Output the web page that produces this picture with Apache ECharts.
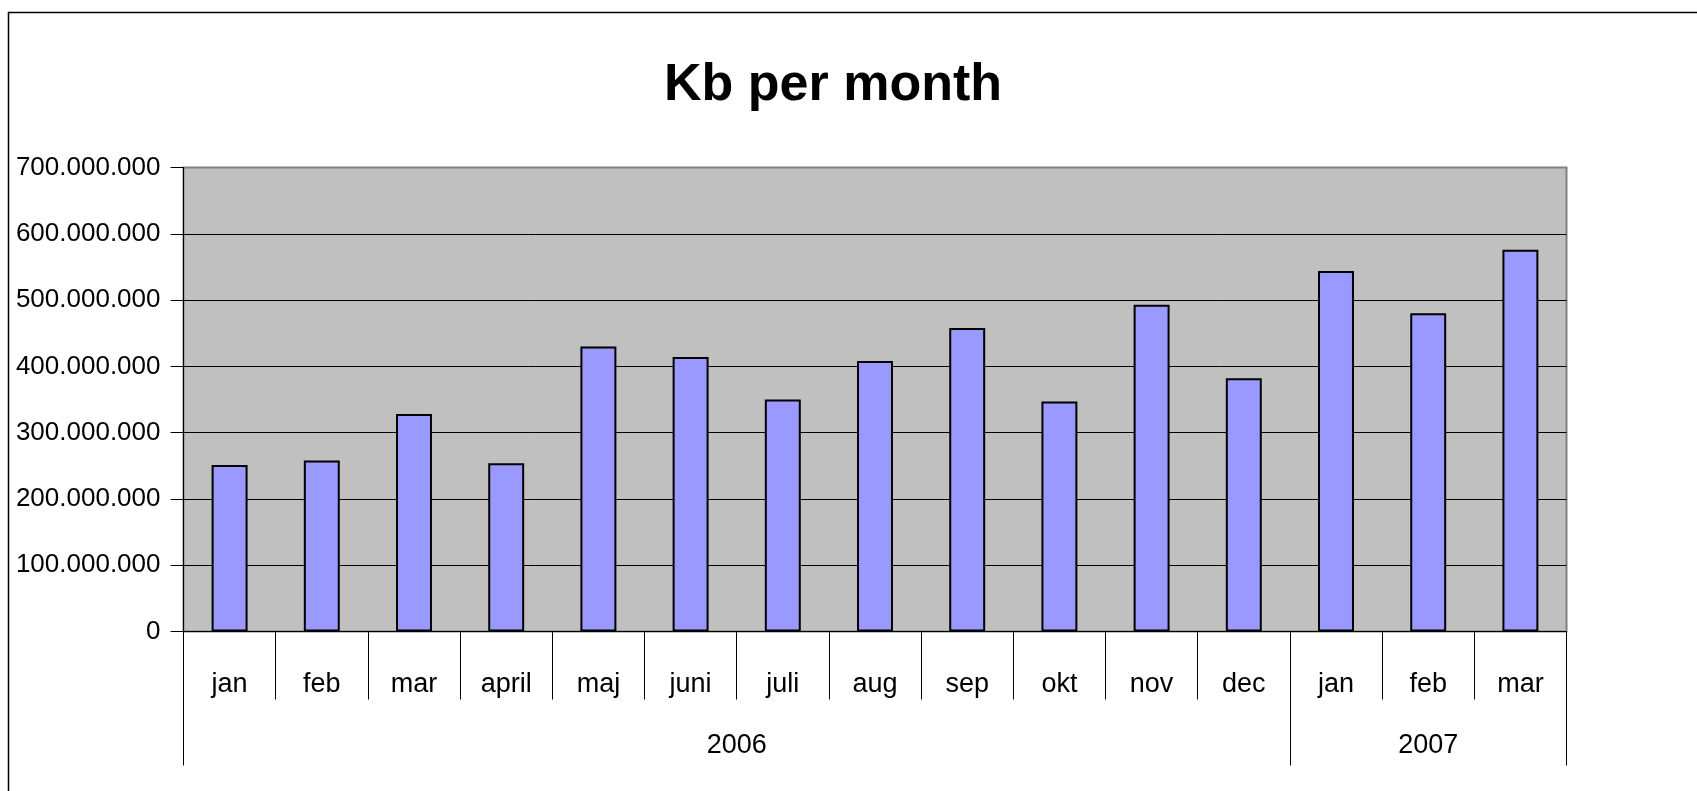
<!DOCTYPE html>
<html>
<head>
<meta charset="utf-8">
<style>
  html, body { margin: 0; padding: 0; background: #ffffff; }
  #chart { width: 1697px; height: 791px; }
</style>
<script src="https://cdn.jsdelivr.net/npm/echarts@6/dist/echarts.min.js"></script>
</head>
<body>
<div id="chart"></div>
<script>
// ---- data ----
const titleText = 'Kb per month';
const months = ['jan', 'feb', 'mar', 'april', 'maj', 'juni', 'juli', 'aug', 'sep', 'okt', 'nov', 'dec', 'jan', 'feb', 'mar'];
const kbValues = [251000000, 258000000, 328000000, 254000000, 430000000, 414000000, 350000000, 408000000, 458000000, 347000000, 493000000, 382000000, 544000000, 480000000, 576000000];
const years = ['2006', '2007'];
const yearCounts = [12, 3];
const yMin = 0, yMax = 700000000, yStep = 100000000;

// ---- derived group boundaries / centres for the year row ----
const yearBounds = [0];
yearCounts.forEach(c => yearBounds.push(yearBounds[yearBounds.length - 1] + c));
const yearCenters = yearCounts.map((c, i) => yearBounds[i] + c / 2);

const labelFont = "'Liberation Sans', Arial, sans-serif";
const fmt = v => String(v).replace(/\B(?=(\d{3})+(?!\d))/g, '.');

const chart = echarts.init(document.getElementById('chart'), null, { renderer: 'canvas' });
chart.setOption({
  backgroundColor: '#ffffff',
  animation: false,
  title: {
    text: titleText,
    left: 828,
    textAlign: 'center',
    top: 55,
    textStyle: { fontFamily: "'Liberation Sans', Arial, sans-serif", fontWeight: 'bold', fontSize: 52, color: '#000' }
  },
  graphic: [{
    type: 'rect', silent: true, z: -10,
    shape: { x: 8.5, y: 12.5, width: 2000, height: 1000 },
    style: { fill: null, stroke: '#000', lineWidth: 1.5 }
  }],
  grid: {
    left: 183.5, right: 130.5, top: 167.5, bottom: 159.5,
    outerBoundsMode: 'none',
    containLabel: false,
    show: true, backgroundColor: '#C0C0C0', borderColor: '#808080', borderWidth: 2
  },
  xAxis: [{
    type: 'category',
    data: months,
    boundaryGap: true,
    axisLine: { show: true, lineStyle: { color: '#000', width: 1 } },
    axisTick: { show: true, interval: 0, length: 68, lineStyle: { color: '#000', width: 1 } },
    axisLabel: { interval: 0, margin: 53, verticalAlign: 'middle', fontFamily: labelFont, fontSize: 27, color: '#000' },
    splitLine: { show: false }
  }, {
    type: 'value',
    min: 0,
    max: yearBounds[yearBounds.length - 1],
    position: 'bottom',
    axisLine: { show: false },
    axisTick: { show: true, customValues: yearBounds, length: 134, lineStyle: { color: '#000', width: 1 } },
    axisLabel: {
      show: true, customValues: yearCenters, margin: 114, verticalAlign: 'middle',
      fontFamily: labelFont, fontSize: 27, color: '#000',
      formatter: v => { const i = yearCenters.indexOf(v); return i >= 0 ? years[i] : ''; }
    },
    splitLine: { show: false }
  }],
  yAxis: {
    type: 'value',
    min: yMin, max: yMax, interval: yStep,
    axisLine: { show: true, lineStyle: { color: '#000', width: 1 } },
    axisTick: { show: true, length: 13, lineStyle: { color: '#000', width: 1 } },
    axisLabel: { margin: 23, fontFamily: labelFont, fontSize: 26, color: '#000', formatter: v => fmt(v) },
    splitLine: { show: true, lineStyle: { color: ['#000', '#000', '#000', '#000', '#000', '#000', '#000', '#808080'], width: 1 } }
  },
  series: [{
    type: 'bar',
    xAxisIndex: 0,
    data: kbValues,
    barWidth: '39%',
    itemStyle: { color: '#9999FF', borderColor: '#000', borderWidth: 2 }
  }]
});
</script>
</body>
</html>
